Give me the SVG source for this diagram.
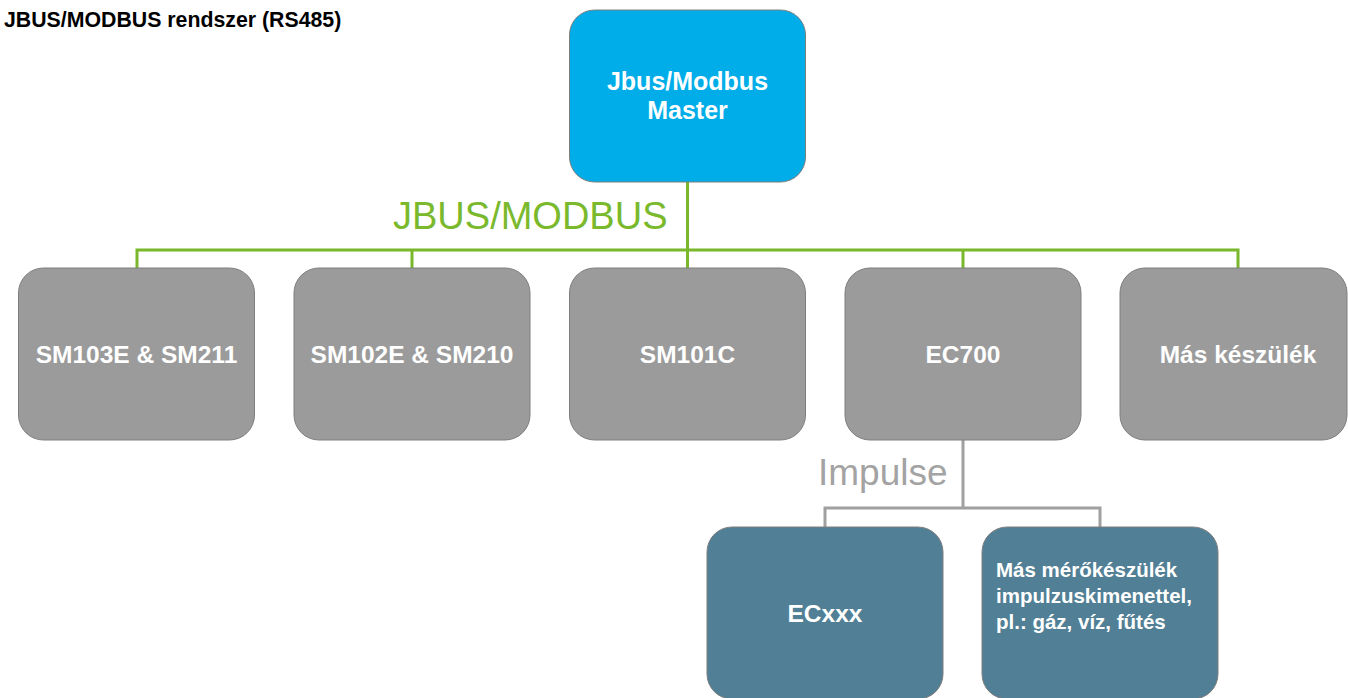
<svg xmlns="http://www.w3.org/2000/svg" width="1348" height="698" viewBox="0 0 1348 698">
<style>
  .box { stroke: #7e7e7e; stroke-width: 1; }
  .master { fill: #00ade8; }
  .dev { fill: #9b9b9b; }
  .sub { fill: #517f95; }
  .lbl { font-family: "Liberation Sans", Arial, sans-serif; font-weight: bold; fill: #ffffff; }
  .bus { fill: none; stroke: #78b82a; stroke-width: 3; }
  .imp { fill: none; stroke: #a0a0a0; stroke-width: 3; }
</style>
<rect width="1348" height="698" fill="#ffffff"/>
<text x="4" y="27" font-family="Liberation Sans, Arial, sans-serif" font-weight="bold" font-size="21.3" fill="#000000">JBUS/MODBUS rendszer (RS485)</text>
<g id="connectors">
  <path class="bus" d="M687.5 182 V268 M137 268 V250 H1238 V268 M412 250 V268 M963 250 V268"/>
  <path class="imp" d="M963 440 V508 M825 527 V508 H1100 V527"/>
  <text x="393" y="229" font-family="Liberation Sans, Arial, sans-serif" font-size="38" fill="#7ab92c">JBUS/MODBUS</text>
  <text x="818" y="485" font-family="Liberation Sans, Arial, sans-serif" font-size="37" fill="#a3a3a3">Impulse</text>
</g>
<g id="master">
  <rect class="box master" x="569.5" y="10" width="236" height="172" rx="25"/>
  <text class="lbl" x="687.5" y="90" font-size="25" text-anchor="middle">Jbus/Modbus</text>
  <text class="lbl" x="687.5" y="119" font-size="25" text-anchor="middle">Master</text>
</g>
<g id="sm103e">
  <rect class="box dev" x="18.5" y="268" width="236" height="172" rx="25"/>
  <text class="lbl" x="136.5" y="363" font-size="24.5" text-anchor="middle">SM103E &amp; SM211</text>
</g>
<g id="sm102e">
  <rect class="box dev" x="294" y="268" width="236" height="172" rx="25"/>
  <text class="lbl" x="412" y="363" font-size="24.5" text-anchor="middle">SM102E &amp; SM210</text>
</g>
<g id="sm101c">
  <rect class="box dev" x="569.5" y="268" width="236" height="172" rx="25"/>
  <text class="lbl" x="687.5" y="363" font-size="24.5" text-anchor="middle">SM101C</text>
</g>
<g id="ec700">
  <rect class="box dev" x="845" y="268" width="236" height="172" rx="25"/>
  <text class="lbl" x="963" y="363" font-size="24.5" text-anchor="middle">EC700</text>
</g>
<g id="mas-keszulek">
  <rect class="box dev" x="1120" y="268" width="227" height="172" rx="25"/>
  <text class="lbl" x="1238" y="363" font-size="24.5" text-anchor="middle">Más készülék</text>
</g>
<g id="ecxxx">
  <rect class="box sub" x="707" y="527" width="236" height="172" rx="25"/>
  <text class="lbl" x="825" y="622" font-size="24.5" text-anchor="middle">ECxxx</text>
</g>
<g id="mas-merokeszulek">
  <rect class="box sub" x="982" y="527" width="236" height="172" rx="25"/>
  <text class="lbl" x="996" y="577" font-size="20.5">Más mérőkészülék</text>
  <text class="lbl" x="996" y="603" font-size="20.5">impulzuskimenettel,</text>
  <text class="lbl" x="996" y="629" font-size="20.5">pl.: gáz, víz, fűtés</text>
</g>
</svg>
